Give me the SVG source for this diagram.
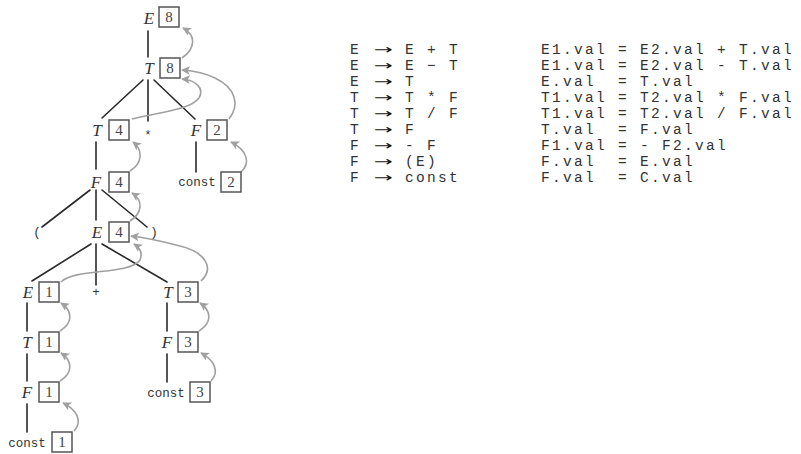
<svg xmlns="http://www.w3.org/2000/svg" width="801" height="454" viewBox="0 0 801 454">
  <style>
    .sym { font-family: "Liberation Serif", serif; font-style: italic; font-size: 17px; fill: #333; text-anchor: middle; }
    .num { font-family: "Liberation Serif", serif; font-size: 15px; fill: #444; text-anchor: middle; }
    .tok { font-family: "Liberation Mono", monospace; font-size: 12.5px; fill: #333; text-anchor: middle; }
    .box { fill: #fff; stroke: #555; stroke-width: 1.5; }
    .edge { stroke: #2a2a2a; stroke-width: 1.6; fill: none; stroke-linecap: round; }
    .flow { stroke: #a0a0a0; stroke-width: 1.6; fill: none; marker-end: url(#head); }
    .code { font-family: "Liberation Mono", monospace; font-size: 14.5px; letter-spacing: 2.3px; fill: #333; white-space: pre; }
    .arrow { font-family: "DejaVu Sans", sans-serif; font-size: 13px; fill: #111; text-anchor: middle; }
  </style>
  <defs>
    <marker id="head" viewBox="0 0 10 10" refX="9" refY="5" markerWidth="5.5" markerHeight="5.5" orient="auto" markerUnits="strokeWidth">
      <path d="M0,0 L10,5 L0,10 L2.5,5 z" fill="#a0a0a0"/>
    </marker>
  </defs>

  <!-- parse tree edges -->
  <g id="edges">
    <line class="edge" x1="148" y1="31" x2="148" y2="57"/>
    <line class="edge" x1="143" y1="80" x2="102" y2="118"/>
    <line class="edge" x1="148" y1="80" x2="148" y2="121"/>
    <line class="edge" x1="154" y1="80" x2="195" y2="119"/>
    <line class="edge" x1="96" y1="142" x2="96" y2="169"/>
    <line class="edge" x1="196" y1="142" x2="196" y2="172"/>
    <line class="edge" x1="90" y1="190" x2="42" y2="227"/>
    <line class="edge" x1="96" y1="190" x2="96" y2="220"/>
    <line class="edge" x1="102" y1="190" x2="147" y2="227"/>
    <line class="edge" x1="91" y1="244" x2="32" y2="281"/>
    <line class="edge" x1="96" y1="244" x2="96" y2="285"/>
    <line class="edge" x1="102" y1="244" x2="167" y2="282"/>
    <line class="edge" x1="27" y1="303" x2="27" y2="331"/>
    <line class="edge" x1="27" y1="354" x2="27" y2="381"/>
    <line class="edge" x1="27" y1="404" x2="27" y2="432"/>
    <line class="edge" x1="167" y1="303" x2="167" y2="331"/>
    <line class="edge" x1="167" y1="354" x2="167" y2="382"/>
  </g>

  <!-- value flow (synthesized attributes) -->
  <g id="flows">
    <path class="flow" d="M182,58 C196,48 196,35 183,28"/>
    <path class="flow" d="M132,119 C160,112 190,110 199,98 C205,88 195,80 182,79"/>
    <path class="flow" d="M229,119 C240,105 236,88 215,78 C205,73 195,71 182,70"/>
    <path class="flow" d="M130,171 C143,163 143,150 133,142"/>
    <path class="flow" d="M241,172 C251,163 247,150 231,142"/>
    <path class="flow" d="M130,221 C143,213 143,200 132,193"/>
    <path class="flow" d="M61,282 C75,268 130,275 140,260 C143,253 140,248 134,244"/>
    <path class="flow" d="M201,281 C215,268 205,252 180,246 C165,242 148,238 131,236"/>
    <path class="flow" d="M60,331 C73,323 73,311 61,303"/>
    <path class="flow" d="M60,381 C73,373 73,361 61,353"/>
    <path class="flow" d="M74,431 C83,421 77,410 63,403"/>
    <path class="flow" d="M199,331 C212,323 212,311 200,303"/>
    <path class="flow" d="M211,381 C220,371 214,360 201,353"/>
  </g>

  <!-- tree nodes -->
  <g id="E8"><text class="sym" x="149" y="24">E</text><rect class="box" x="159" y="7" width="20" height="20"/><text class="num" x="169" y="22">8</text></g>
  <g id="T8"><text class="sym" x="149" y="74">T</text><rect class="box" x="160" y="58" width="20" height="20"/><text class="num" x="170" y="73">8</text></g>
  <g id="T4"><text class="sym" x="97" y="136">T</text><rect class="box" x="109" y="120" width="20" height="20"/><text class="num" x="119" y="135">4</text></g>
  <g id="times"><text class="tok" x="148" y="139">*</text></g>
  <g id="F2"><text class="sym" x="196" y="136">F</text><rect class="box" x="207" y="120" width="20" height="20"/><text class="num" x="217" y="135">2</text></g>
  <g id="F4"><text class="sym" x="96" y="188">F</text><rect class="box" x="109" y="172" width="20" height="20"/><text class="num" x="119" y="187">4</text></g>
  <g id="const2"><text class="tok" x="197" y="186">const</text><rect class="box" x="221" y="172" width="20" height="20"/><text class="num" x="231" y="187">2</text></g>
  <g id="lparen"><text class="tok" x="37" y="236">(</text></g>
  <g id="E4"><text class="sym" x="97" y="238">E</text><rect class="box" x="109" y="222" width="20" height="20"/><text class="num" x="119" y="237">4</text></g>
  <g id="rparen"><text class="tok" x="154" y="236">)</text></g>
  <g id="E1"><text class="sym" x="28" y="298">E</text><rect class="box" x="39" y="282" width="20" height="20"/><text class="num" x="49" y="297">1</text></g>
  <g id="plus"><text class="tok" x="96" y="296">+</text></g>
  <g id="T3"><text class="sym" x="168" y="298">T</text><rect class="box" x="178" y="282" width="20" height="20"/><text class="num" x="188" y="297">3</text></g>
  <g id="T1"><text class="sym" x="27" y="348">T</text><rect class="box" x="39" y="332" width="20" height="20"/><text class="num" x="49" y="347">1</text></g>
  <g id="F3"><text class="sym" x="167" y="348">F</text><rect class="box" x="178" y="332" width="20" height="20"/><text class="num" x="188" y="347">3</text></g>
  <g id="F1"><text class="sym" x="27" y="398">F</text><rect class="box" x="39" y="382" width="20" height="20"/><text class="num" x="49" y="397">1</text></g>
  <g id="const3"><text class="tok" x="166" y="397">const</text><rect class="box" x="190" y="382" width="20" height="20"/><text class="num" x="200" y="397">3</text></g>
  <g id="const1"><text class="tok" x="27" y="447">const</text><rect class="box" x="52" y="432" width="20" height="20"/><text class="num" x="62" y="447">1</text></g>

  <!-- grammar productions -->
  <g id="grammar">
    <text class="code" x="350" y="54">E</text><text class="arrow" x="383" y="54" textLength="19" lengthAdjust="spacingAndGlyphs">→</text><text class="code" x="405" y="54">E + T</text>
    <text class="code" x="350" y="70">E</text><text class="arrow" x="383" y="70" textLength="19" lengthAdjust="spacingAndGlyphs">→</text><text class="code" x="405" y="70">E − T</text>
    <text class="code" x="350" y="86">E</text><text class="arrow" x="383" y="86" textLength="19" lengthAdjust="spacingAndGlyphs">→</text><text class="code" x="405" y="86">T</text>
    <text class="code" x="350" y="102">T</text><text class="arrow" x="383" y="102" textLength="19" lengthAdjust="spacingAndGlyphs">→</text><text class="code" x="405" y="102">T * F</text>
    <text class="code" x="350" y="118">T</text><text class="arrow" x="383" y="118" textLength="19" lengthAdjust="spacingAndGlyphs">→</text><text class="code" x="405" y="118">T / F</text>
    <text class="code" x="350" y="134">T</text><text class="arrow" x="383" y="134" textLength="19" lengthAdjust="spacingAndGlyphs">→</text><text class="code" x="405" y="134">F</text>
    <text class="code" x="350" y="150">F</text><text class="arrow" x="383" y="150" textLength="19" lengthAdjust="spacingAndGlyphs">→</text><text class="code" x="405" y="150">- F</text>
    <text class="code" x="350" y="166">F</text><text class="arrow" x="383" y="166" textLength="19" lengthAdjust="spacingAndGlyphs">→</text><text class="code" x="405" y="166">(E)</text>
    <text class="code" x="350" y="182">F</text><text class="arrow" x="383" y="182" textLength="19" lengthAdjust="spacingAndGlyphs">→</text><text class="code" x="405" y="182">const</text>
  </g>

  <!-- semantic rules -->
  <g id="rules">
    <text class="code" x="541" y="54">E1.val = E2.val + T.val</text>
    <text class="code" x="541" y="70">E1.val = E2.val - T.val</text>
    <text class="code" x="541" y="86">E.val  = T.val</text>
    <text class="code" x="541" y="102">T1.val = T2.val * F.val</text>
    <text class="code" x="541" y="118">T1.val = T2.val / F.val</text>
    <text class="code" x="541" y="134">T.val  = F.val</text>
    <text class="code" x="541" y="150">F1.val = - F2.val</text>
    <text class="code" x="541" y="166">F.val  = E.val</text>
    <text class="code" x="541" y="182">F.val  = C.val</text>
  </g>
</svg>
